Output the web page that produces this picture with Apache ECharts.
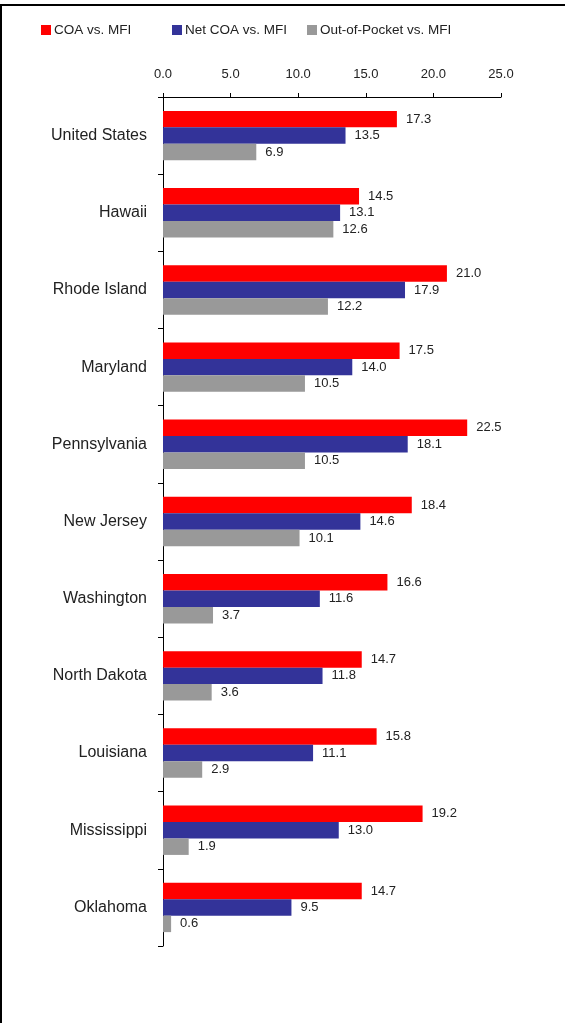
<!DOCTYPE html>
<html>
<head>
<meta charset="utf-8">
<script src="https://cdn.jsdelivr.net/npm/echarts@6/dist/echarts.min.js"></script>
<style>
  html, body { margin: 0; padding: 0; background: #fff; }
  #chart { width: 565px; height: 1023px; }
</style>
</head>
<body>
<div id="chart"></div>
<script>
const states = ['United States', 'Hawaii', 'Rhode Island', 'Maryland', 'Pennsylvania', 'New Jersey',
  'Washington', 'North Dakota', 'Louisiana', 'Mississippi', 'Oklahoma'];
const coa = [17.3, 14.5, 21.0, 17.5, 22.5, 18.4, 16.6, 14.7, 15.8, 19.2, 14.7];
const netCoa = [13.5, 13.1, 17.9, 14.0, 18.1, 14.6, 11.6, 11.8, 11.1, 13.0, 9.5];
const outOfPocket = [6.9, 12.6, 12.2, 10.5, 10.5, 10.1, 3.7, 3.6, 2.9, 1.9, 0.6];
const seriesNames = ['COA vs. MFI', 'Net COA vs. MFI', 'Out-of-Pocket vs. MFI'];
const colors = ['#FF0000', '#333399', '#999999'];

const font = 'Arial, "Liberation Sans", sans-serif';

const chart = echarts.init(document.getElementById('chart'));

// one legend per item so the spacing matches the original
const legendLefts = [41, 172, 307];
const legends = seriesNames.map((name, i) => ({
  data: [name],
  left: legendLefts[i],
  top: 23,
  padding: 0,
  itemWidth: 10,
  itemHeight: 10,
  itemGap: 0,
  icon: 'rect',
  selectedMode: false,
  textStyle: { fontFamily: font, fontSize: 13.5, color: '#222', padding: [0, 0, 0, -2] }
}));

const labelStyle = {
  show: true,
  position: 'right',
  distance: 9,
  fontFamily: font,
  fontSize: 13,
  color: '#222',
  formatter: p => p.value.toFixed(1)
};

const option = {
  animation: false,
  backgroundColor: '#fff',
  legend: legends,
  grid: { left: 163, top: 97, right: 64, bottom: 77, containLabel: false },
  xAxis: {
    type: 'value',
    position: 'top',
    min: 0,
    max: 25,
    interval: 5,
    splitLine: { show: false },
    axisLine: { show: true, lineStyle: { color: '#000', width: 1 } },
    axisTick: { show: true, length: 4, lineStyle: { color: '#000' } },
    axisLabel: { fontFamily: font, fontSize: 13, color: '#222', margin: 16, formatter: v => v.toFixed(1) }
  },
  yAxis: {
    type: 'category',
    data: states,
    inverse: true,
    axisLine: { show: true, lineStyle: { color: '#000', width: 1 } },
    axisTick: { show: true, length: 5, alignWithLabel: false, lineStyle: { color: '#000' } },
    axisLabel: { fontFamily: font, fontSize: 16, color: '#222', margin: 16 }
  },
  series: [
    { name: seriesNames[0], type: 'bar', data: coa, itemStyle: { color: colors[0] },
      barGap: '0%', barCategoryGap: '36%', label: labelStyle },
    { name: seriesNames[1], type: 'bar', data: netCoa, itemStyle: { color: colors[1] },
      barGap: '0%', barCategoryGap: '36%', label: labelStyle },
    { name: seriesNames[2], type: 'bar', data: outOfPocket, itemStyle: { color: colors[2] },
      barGap: '0%', barCategoryGap: '36%', label: labelStyle }
  ],
  // frame lines of the original slide
  graphic: [
    { type: 'rect', shape: { x: 0, y: 4, width: 565, height: 2 }, style: { fill: '#000' }, silent: true },
    { type: 'rect', shape: { x: 0, y: 4, width: 2, height: 1019 }, style: { fill: '#000' }, silent: true }
  ]
};

chart.setOption(option);
</script>
</body>
</html>
